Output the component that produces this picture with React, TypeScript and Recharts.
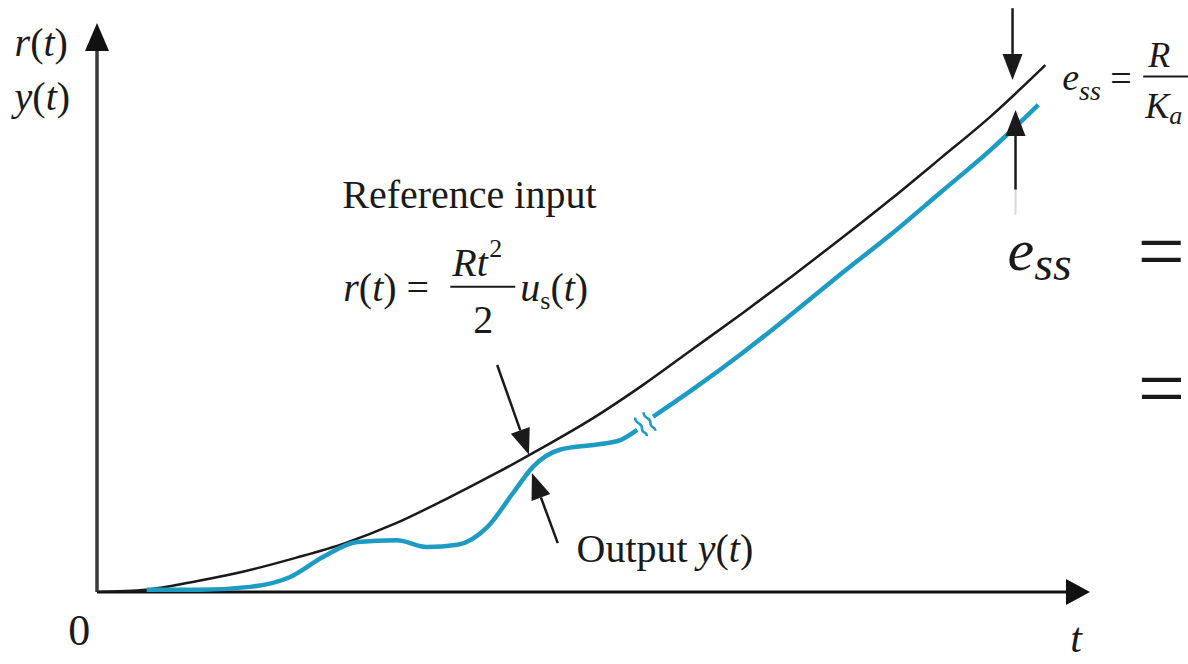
import { LineChart, Line, XAxis, YAxis, ReferenceLine, ReferenceDot } from 'recharts';

// reference input r(t) = R t^2 / 2
const refT = [0, 0.5, 1, 1.5, 2, 2.5, 3, 3.5, 4, 4.5, 5, 5.5, 6, 6.5, 7, 7.5, 8, 8.5, 9, 9.55];
const refV = [0, 0.04, 0.19, 0.37, 0.6, 0.86, 1.2, 1.62, 2.07, 2.55, 3.06, 3.64, 4.27, 4.9, 5.55, 6.22, 6.91, 7.63, 8.36, 9.26];

// output y(t), transient part (before the break)
const outT1 = [0.5, 1.04, 1.54, 1.94, 2.28, 2.62, 3.02, 3.32, 3.63, 3.93, 4.19, 4.39, 4.66, 5.07, 5.27, 5.44];
const outV1 = [0.04, 0.04, 0.09, 0.26, 0.62, 0.88, 0.91, 0.79, 0.83, 1.14, 1.74, 2.2, 2.5, 2.6, 2.67, 2.85];

// output y(t), steady-state part (after the break)
const outT2 = [5.6, 6, 6.5, 7, 7.5, 8, 8.5, 9, 9.48];
const outV2 = [3.08, 3.56, 4.2, 4.89, 5.6, 6.29, 7.03, 7.77, 8.56];

const toRows = (ts: number[], vs: number[]) => ts.map((t, i) => ({ t, v: vs[i] }));
const refData = toRows(refT, refV);
const outData1 = toRows(outT1, outV1);
const outData2 = toRows(outT2, outV2);

const SERIF =
  "'Liberation Serif', Tinos, 'Times New Roman', Times, 'Noto Serif', 'DejaVu Serif', FreeSerif, serif";
const INK = '#1a1a1a';
const BLUE = '#1d9bc3';

const arrowShape = (p: any) => {
  const { x1, y1, x2, y2 } = p;
  const dx = x2 - x1;
  const dy = y2 - y1;
  const L = Math.hypot(dx, dy) || 1;
  const ux = dx / L;
  const uy = dy / L;
  const len = 26;
  const hw = 10;
  const bx = x2 - ux * len;
  const by = y2 - uy * len;
  return (
    <g>
      <line x1={x1} y1={y1} x2={bx} y2={by} stroke={INK} strokeWidth={2.5} />
      <polygon
        points={`${x2},${y2} ${bx - uy * hw},${by + ux * hw} ${bx + uy * hw},${by - ux * hw}`}
        fill={INK}
      />
    </g>
  );
};

const lineShape = (color: string, width: number) => (p: any) => (
  <line x1={p.x1} y1={p.y1} x2={p.x2} y2={p.y2} stroke={color} strokeWidth={width} />
);

const txt = { fill: INK, fontFamily: SERIF, style: { fontFamily: SERIF } } as const;

export default function App() {
  return (
    <div style={{ position: 'absolute', left: 0, top: 0, width: 1188, height: 664, background: '#fff', fontFamily: SERIF }}>
      <LineChart width={1188} height={664} margin={{ top: 23, right: 98, bottom: 72, left: 97 }}>
        <XAxis type="number" dataKey="t" domain={[0, 10]} hide allowDataOverflow />
        <YAxis type="number" domain={[0, 10]} hide allowDataOverflow />

        {/* axes */}
        <ReferenceLine segment={[{ x: 0, y: 0 }, { x: 9.8, y: 0 }]} ifOverflow="visible" shape={lineShape('#111', 3)} />
        <ReferenceLine segment={[{ x: 0, y: 0 }, { x: 0, y: 9.7 }]} ifOverflow="visible" shape={lineShape('#3a3a3a', 3.5)} />

        <Line data={refData} dataKey="v" type="monotone" stroke={INK} strokeWidth={2.5} dot={false} activeDot={false} isAnimationActive={false} />
        <Line data={outData1} dataKey="v" type="monotone" stroke={BLUE} strokeWidth={4.5} dot={false} activeDot={false} isAnimationActive={false} />
        <Line data={outData2} dataKey="v" type="monotone" stroke={BLUE} strokeWidth={4.5} dot={false} activeDot={false} isAnimationActive={false} />

        {/* axis arrowheads */}
        <ReferenceDot x={10} y={0} ifOverflow="visible" shape={(p: any) => (
          <polygon points={`${p.cx},${p.cy} ${p.cx - 24},${p.cy - 13} ${p.cx - 24},${p.cy + 13}`} fill="#111" />
        )} />
        <ReferenceDot x={0} y={10} ifOverflow="visible" shape={(p: any) => (
          <polygon points={`${p.cx},${p.cy} ${p.cx - 12},${p.cy + 28} ${p.cx + 12},${p.cy + 28}`} fill="#111" />
        )} />

        {/* break marks on the output curve */}
        <ReferenceDot x={5.52} y={2.95} ifOverflow="visible" shape={(p: any) => (
          <g transform={`translate(${p.cx},${p.cy}) rotate(-32)`} fill="none" stroke={BLUE} strokeWidth={2.5}>
            <rect x={-4} y={-8} width={8} height={16} fill="#fff" stroke="none" />
            <path d="M -5 -11 C -9 -5, -1 -3, -5 2 C -8 6, -2 8, -5 11" />
            <path d="M 5 -11 C 1 -5, 9 -3, 5 2 C 2 6, 8 8, 5 11" />
          </g>
        )} />

        {/* annotation arrows */}
        <ReferenceLine segment={[{ x: 4.03, y: 3.99 }, { x: 4.35, y: 2.41 }]} ifOverflow="visible" shape={arrowShape} />
        <ReferenceLine segment={[{ x: 4.64, y: 0.86 }, { x: 4.38, y: 2.09 }]} ifOverflow="visible" shape={arrowShape} />
        <ReferenceLine segment={[{ x: 9.22, y: 10.26 }, { x: 9.22, y: 9.0 }]} ifOverflow="visible" shape={arrowShape} />
        <ReferenceLine segment={[{ x: 9.25, y: 7.07 }, { x: 9.25, y: 8.47 }]} ifOverflow="visible" shape={arrowShape} />
        <ReferenceLine segment={[{ x: 9.25, y: 7.07 }, { x: 9.25, y: 6.63 }]} ifOverflow="visible" shape={lineShape('#d8d8d8', 2)} />

        {/* axis titles */}
        <ReferenceDot x={-0.83} y={9.42} ifOverflow="visible" shape={(p: any) => (
          <g>
            <text x={p.cx} y={p.cy} fontSize={40} {...txt}>
              <tspan fontStyle="italic">r</tspan>(<tspan fontStyle="italic">t</tspan>)
            </text>
            <text x={p.cx} y={p.cy + 54} fontSize={40} {...txt}>
              <tspan fontStyle="italic">y</tspan>(<tspan fontStyle="italic">t</tspan>)
            </text>
          </g>
        )} />
        <ReferenceDot x={-0.29} y={-0.93} ifOverflow="visible" shape={(p: any) => (
          <text x={p.cx} y={p.cy} fontSize={44} {...txt}>0</text>
        )} />
        <ReferenceDot x={9.8} y={-1.05} ifOverflow="visible" shape={(p: any) => (
          <text x={p.cx} y={p.cy} fontSize={42} fontStyle="italic" {...txt}>t</text>
        )} />

        {/* reference input label and formula */}
        <ReferenceDot x={2.47} y={6.75} ifOverflow="visible" shape={(p: any) => (
          <text x={p.cx} y={p.cy} fontSize={40} {...txt}>Reference input</text>
        )} />
        <ReferenceDot x={2.48} y={5.12} ifOverflow="visible" shape={(p: any) => {
          const x = p.cx;
          const y = p.cy;
          return (
            <g>
              <text x={x} y={y} fontSize={40} {...txt}>
                <tspan fontStyle="italic">r</tspan>(<tspan fontStyle="italic">t</tspan>) =
              </text>
              <text x={x + 109} y={y - 25} fontSize={40} fontStyle="italic" {...txt}>Rt</text>
              <text x={x + 146} y={y - 44} fontSize={26} {...txt}>2</text>
              <line x1={x + 107} y1={y - 14} x2={x + 172} y2={y - 14} stroke={INK} strokeWidth={2} />
              <text x={x + 140} y={y + 32} fontSize={40} textAnchor="middle" {...txt}>2</text>
              <text x={x + 177} y={y} fontSize={40} {...txt}>
                <tspan fontStyle="italic">u</tspan>
                <tspan fontSize={26} dy={8}>s</tspan>
                <tspan dy={-8}>(</tspan>
                <tspan fontStyle="italic">t</tspan>)
              </text>
            </g>
          );
        }} />

        {/* output label */}
        <ReferenceDot x={4.83} y={0.53} ifOverflow="visible" shape={(p: any) => (
          <text x={p.cx} y={p.cy} fontSize={40} {...txt}>
            Output <tspan fontStyle="italic">y</tspan>(<tspan fontStyle="italic">t</tspan>)
          </text>
        )} />

        {/* steady-state error label */}
        <ReferenceDot x={9.72} y={8.83} ifOverflow="visible" shape={(p: any) => {
          const x = p.cx;
          const y = p.cy;
          return (
            <g>
              <text x={x} y={y} fontSize={38} fontStyle="italic" {...txt}>
                e<tspan fontSize={28} dy={10}>ss</tspan>
              </text>
              <text x={x + 48} y={y + 1} fontSize={38} {...txt}>=</text>
              <text x={x + 86} y={y - 23} fontSize={36} fontStyle="italic" {...txt}>R</text>
              <line x1={x + 81} y1={y - 13} x2={x + 130} y2={y - 13} stroke={INK} strokeWidth={2} />
              <text x={x + 83} y={y + 28} fontSize={36} fontStyle="italic" {...txt}>
                K<tspan fontSize={26} dy={6}>a</tspan>
              </text>
            </g>
          );
        }} />

        {/* stray typeset fragments on the right */}
        <ReferenceDot x={9.17} y={5.66} ifOverflow="visible" shape={(p: any) => (
          <g>
            <text x={p.cx} y={p.cy} fontSize={60} fontStyle="italic" {...txt}>
              e<tspan fontSize={48} dy={10}>ss</tspan>
            </text>
            <text x={p.cx + 130} y={p.cy + 10} fontSize={84} {...txt}>=</text>
          </g>
        )} />
        <ReferenceDot x={10.48} y={3.07} ifOverflow="visible" shape={(p: any) => (
          <text x={p.cx} y={p.cy} fontSize={84} {...txt}>=</text>
        )} />
      </LineChart>
    </div>
  );
}
